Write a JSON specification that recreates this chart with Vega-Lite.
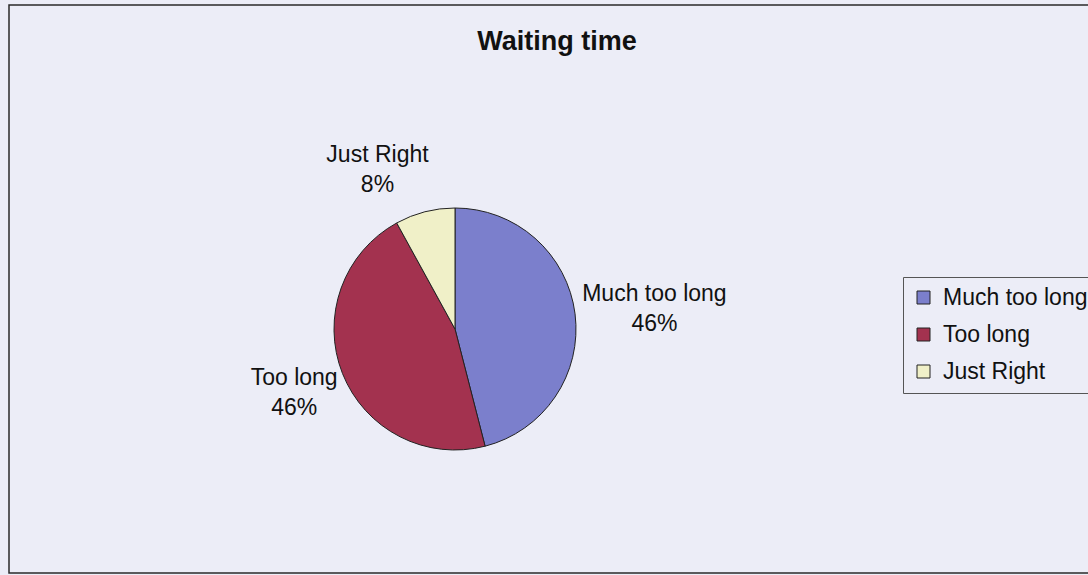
{
  "$schema": "https://vega.github.io/schema/vega-lite/v6.json",
  "width": 242,
  "height": 242,
  "autosize": {"type": "none"},
  "padding": {"left": 334, "top": 208, "right": 512, "bottom": 125},
  "background": "#ecedf7",
  "config": {"view": {"stroke": null}, "font": "Liberation Sans"},
  "title": {
    "text": "Waiting time",
    "fontSize": 27,
    "fontWeight": "bold",
    "font": "Liberation Sans",
    "color": "#111111",
    "anchor": "middle",
    "frame": "group",
    "dx": 102,
    "offset": -73,
    "baseline": "alphabetic"
  },
  "data": {
    "values": [
      {"category": "Much too long", "share": 0.46},
      {"category": "Too long", "share": 0.46},
      {"category": "Just Right", "share": 0.08}
    ]
  },
  "layer": [
    {
      "data": {"values": [{"frame": 1}]},
      "mark": {"type": "rect", "x": -325, "y": -203, "x2": 770, "y2": 365, "fill": null, "stroke": "#2a2a2a", "strokeWidth": 1.5},
      "encoding": {}
    },
    {
      "mark": {"type": "arc", "outerRadius": 121, "stroke": "#222222", "strokeWidth": 1},
      "encoding": {
        "theta": {"field": "share", "type": "quantitative", "stack": true},
        "order": {"field": "share", "sort": "descending"},
        "color": {
          "field": "category",
          "type": "nominal",
          "sort": ["Much too long", "Too long", "Just Right"],
          "scale": {"domain": ["Much too long", "Too long", "Just Right"], "range": ["#7b7fcc", "#a3324f", "#f0f0c8"]},
          "legend": {
            "orient": "none",
            "legendX": 569,
            "legendY": 69,
            "title": null,
            "symbolType": "square",
            "symbolSize": 169,
            "symbolStrokeColor": "#222222",
            "symbolStrokeWidth": 1,
            "symbolOpacity": 1,
            "labelFontSize": 23,
            "labelFont": "Liberation Sans",
            "labelColor": "#111111",
            "labelOffset": 8,
            "labelLimit": 400,
            "rowPadding": 13,
            "padding": 9,
            "strokeColor": "#555555"
          }
        }
      }
    },
    {
      "mark": {
        "type": "text",
        "fontSize": 23,
        "font": "Liberation Sans",
        "color": "#111111",
        "baseline": "middle",
        "align": "center",
        "radius": {"expr": "datum.category === 'Much too long' ? 201 : (datum.category === 'Too long' ? 173 : 175)"},
        "dx": {"expr": "datum.category === 'Just Right' ? -34 : 0"},
        "dy": {"expr": "datum.category === 'Just Right' ? -4.5 : (datum.category === 'Much too long' ? -10 : -15)"}
      },
      "encoding": {
        "theta": {"field": "share", "type": "quantitative", "stack": true},
        "order": {"field": "share", "sort": "descending"},
        "text": {"field": "category", "type": "nominal"}
      }
    },
    {
      "mark": {
        "type": "text",
        "fontSize": 23,
        "font": "Liberation Sans",
        "color": "#111111",
        "baseline": "middle",
        "align": "center",
        "radius": {"expr": "datum.category === 'Much too long' ? 201 : (datum.category === 'Too long' ? 173 : 175)"},
        "dx": {"expr": "datum.category === 'Just Right' ? -34 : 0"},
        "dy": {"expr": "datum.category === 'Just Right' ? 25.5 : (datum.category === 'Much too long' ? 20 : 15)"}
      },
      "encoding": {
        "theta": {"field": "share", "type": "quantitative", "stack": true},
        "order": {"field": "share", "sort": "descending"},
        "text": {"field": "share", "type": "quantitative", "format": ".0%"}
      }
    }
  ]
}
